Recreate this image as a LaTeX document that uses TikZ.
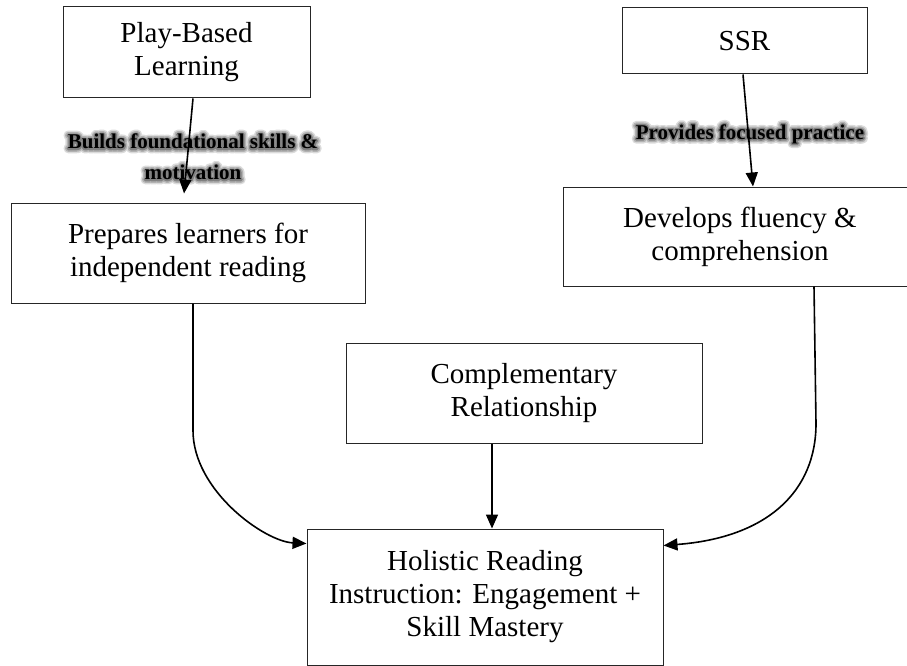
\documentclass[tikz,border=0pt]{standalone}
\usepackage{fontspec}
\setmainfont{Liberation Serif}
\usetikzlibrary{arrows.meta}

\tikzset{
  box/.style={draw=black!85, line width=1pt, align=center, inner sep=0pt,
    font=\fontsize{29}{33}\selectfont},
  lbl/.style={align=center, inner sep=0pt, font=\bfseries\fontsize{21}{31}\selectfont},
  arr/.style={line width=1.6pt, -{Triangle[length=14pt,width=12pt]}},
}

% stroke the glyph outlines with a given width (text render mode 1)
\newcommand{\outlined}[2]{\special{pdf:literal direct #1 w 1 j 1 Tr}#2\special{pdf:literal direct 0 Tr}}

% bold caption with a soft grey halo behind it
\newcommand{\halolabel}[3]{%
  \node[lbl, text=black!14] at (#1) {\outlined{9}{#3}};
  \node[lbl, text=black!30] at (#1) {\outlined{6}{#3}};
  \node[lbl, text=black!50] at (#1) {\outlined{3}{#3}};
  \node[lbl] (#2) at (#1) {#3};}

\begin{document}
\begin{tikzpicture}[x=1pt, y=-1pt]
\useasboundingbox (0,0) rectangle (907,666);

% boxes
\node[box, minimum width=247pt, minimum height=91pt]  (play) at (186.5,52.5) {Play-Based\\Learning};
\node[box, minimum width=245pt, minimum height=66pt]  (ssr)  at (744.5,41)   {SSR};
\node[box, minimum width=354pt, minimum height=100pt] (prep) at (188,253)    {Prepares learners for\\independent reading};
\node[box, minimum width=354pt, minimum height=99pt]  (dev)  at (740,236.5)  {Develops fluency \&\\comprehension};
\node[box, minimum width=356pt, minimum height=100pt] (comp) at (524,393)    {Complementary\\Relationship};
\node[box, minimum width=356pt, minimum height=136pt] (hol)  at (485,597)    {Holistic Reading\\Instruction: Engagement +\\Skill Mastery};

% captions on the two upper links
\coordinate (lblA) at (193,157);
\coordinate (lblB) at (750,134);
\halolabel{lblA}{capA}{Builds foundational skills \&\\motivation}
\halolabel{lblB}{capB}{Provides focused practice}

% links
\draw[arr] ([xshift=6.5pt]play.south) -- ([xshift=-4pt,yshift=9pt]prep.north);
\draw[arr] ([xshift=-1.5pt]ssr.south) -- ([xshift=13pt]dev.north);
\draw[arr] ([xshift=5pt]prep.south) -- ++(0,127)
  .. controls +(0,60) and +(-42,-2) .. ([yshift=-15pt]hol.north west);
\draw[arr] ([xshift=74pt]dev.south) -- ++(2,137)
  .. controls +(0,67) and +(105,-8) .. ([yshift=-17pt]hol.north east);
\draw[arr] ([xshift=-32pt]comp.south) -- ([xshift=7pt]hol.north);

\end{tikzpicture}
\end{document}
